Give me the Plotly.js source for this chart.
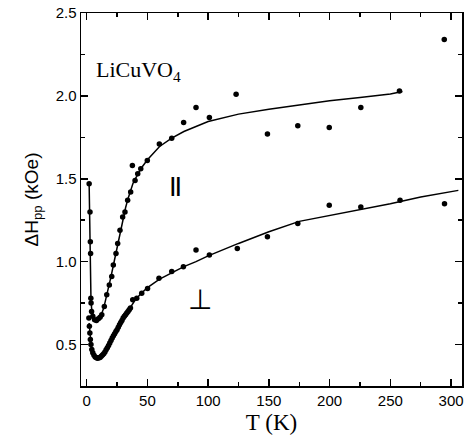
<!DOCTYPE html>
<html>
<head>
<meta charset="utf-8">
<script src="https://cdn.plot.ly/plotly-3.0.1.min.js"></script>
<style>html,body{margin:0;padding:0;background:#fff;}#chart{width:471px;height:442px;}</style>
</head>
<body>
<div id="chart"></div>
<script>
// Parallel (||) measured points
const parT = [2.0, 2.7, 3.0, 3.2, 3.4, 3.6, 4.0, 5.0, 6.5, 8.0, 9.6, 11.0, 12.4, 14.5, 16.5, 18.6, 20.6, 21.9, 24.1, 25.5, 27.4, 29.6, 31.5, 33.7, 36.2, 37.6, 39.8, 42.0, 44.5, 49.9, 59.8, 70.0, 79.8, 90.0, 101.0, 123.0, 148.8, 173.8, 199.7, 225.7, 257.5, 294.4];
const parH = [1.47, 1.30, 1.12, 1.05, 0.78, 0.75, 0.70, 0.67, 0.65, 0.645, 0.655, 0.665, 0.68, 0.73, 0.80, 0.86, 0.91, 0.98, 1.05, 1.11, 1.19, 1.27, 1.30, 1.37, 1.42, 1.58, 1.49, 1.53, 1.56, 1.61, 1.71, 1.745, 1.84, 1.93, 1.87, 2.01, 1.77, 1.82, 1.81, 1.93, 2.03, 2.34];
// Perpendicular measured points
const perT = [1.8, 2.2, 2.6, 3.0, 3.5, 4.2, 5, 6, 7, 8, 9, 10, 11, 12, 13, 14, 15, 16, 17, 18, 19, 20, 21, 22, 23, 24, 25, 26, 27, 28, 29, 30, 31, 32, 33, 34, 35, 36, 37.9, 41.2, 45.3, 50.1, 59.5, 70, 79.6, 90, 101, 124, 148.8, 173.8, 199.7, 225.7, 258, 294.6];
const perH = [0.66, 0.61, 0.57, 0.53, 0.50, 0.47, 0.45, 0.435, 0.425, 0.42, 0.418, 0.42, 0.422, 0.43, 0.437, 0.445, 0.455, 0.468, 0.48, 0.495, 0.51, 0.525, 0.54, 0.553, 0.565, 0.578, 0.59, 0.605, 0.62, 0.633, 0.645, 0.66, 0.67, 0.68, 0.69, 0.70, 0.71, 0.72, 0.77, 0.78, 0.81, 0.838, 0.90, 0.94, 0.97, 1.07, 1.04, 1.08, 1.15, 1.23, 1.34, 1.33, 1.37, 1.35];
// Fit curves
const parFitT = [2, 2.5, 3, 3.5, 4, 5, 6, 7, 8, 10, 12, 14, 16, 18, 20, 22, 24, 26, 28, 30, 32, 34, 36, 38, 40, 45, 50, 60, 70, 80, 90, 100, 125, 150, 175, 200, 225, 250, 260];
const parFitH = [1.47, 1.15, 0.92, 0.78, 0.72, 0.68, 0.66, 0.65, 0.648, 0.655, 0.68, 0.72, 0.78, 0.84, 0.91, 0.98, 1.05, 1.12, 1.20, 1.265, 1.325, 1.38, 1.43, 1.47, 1.50, 1.565, 1.615, 1.695, 1.745, 1.785, 1.815, 1.845, 1.89, 1.92, 1.945, 1.97, 1.99, 2.012, 2.026];
const perFitT = [2, 3, 4, 5, 6, 8, 10, 12, 14, 16, 18, 20, 22, 25, 28, 30, 33, 36, 40, 45, 50, 60, 70, 80, 90, 100, 125, 150, 175, 200, 225, 250, 275, 306];
const perFitH = [0.63, 0.52, 0.47, 0.445, 0.43, 0.42, 0.42, 0.43, 0.445, 0.47, 0.50, 0.53, 0.555, 0.59, 0.635, 0.66, 0.69, 0.725, 0.77, 0.81, 0.843, 0.895, 0.935, 0.97, 1.0, 1.035, 1.11, 1.18, 1.243, 1.277, 1.313, 1.349, 1.39, 1.43];

const mk = {color: '#000', size: 5.5, symbol: 'circle'};
const ln = {color: '#000', width: 1.5};
const data = [
  {x: parFitT, y: parFitH, mode: 'lines', line: ln, hoverinfo: 'skip'},
  {x: perFitT, y: perFitH, mode: 'lines', line: ln, hoverinfo: 'skip'},
  {x: parT, y: parH, mode: 'markers', marker: mk},
  {x: perT, y: perH, mode: 'markers', marker: mk}
];
const axBase = {
  showline: true, linecolor: '#000', linewidth: 1.5, mirror: 'ticks',
  ticks: 'inside', ticklen: 7, tickwidth: 1.5, tickcolor: '#000',
  showgrid: false, zeroline: false,
  tickfont: {family: 'Liberation Sans, Arial, sans-serif', size: 15, color: '#000'}
};
const layout = {
  width: 471, height: 442,
  margin: {l: 81, r: 9, t: 13, b: 56},
  paper_bgcolor: '#fff', plot_bgcolor: '#fff',
  showlegend: false,
  xaxis: Object.assign({}, axBase, {
    range: [-4.7, 309], tickvals: [0, 50, 100, 150, 200, 250, 300],
    minor: {dtick: 25, tick0: 0, ticks: 'inside', ticklen: 4, tickwidth: 1.5, tickcolor: '#000'},
    title: {text: 'T (K)', font: {family: 'Liberation Serif, Times New Roman, serif', size: 23, color: '#000'}, standoff: 6}
  }),
  yaxis: Object.assign({}, axBase, {
    range: [0.25, 2.5], tickvals: [0.5, 1.0, 1.5, 2.0, 2.5], ticktext: ['0.5', '1.0', '1.5', '2.0', '2.5'],
    minor: {dtick: 0.25, tick0: 0, ticks: 'inside', ticklen: 4, tickwidth: 1.5, tickcolor: '#000'},
    title: {text: 'ΔH<sub>pp</sub> (kOe)', font: {family: 'Liberation Sans, Arial, sans-serif', size: 19, color: '#000'}, standoff: 12}
  }),
  annotations: [
    {xref: 'paper', yref: 'paper', x: 0.035, y: 0.845, xanchor: 'left', yanchor: 'middle', showarrow: false,
     text: 'LiCuVO<sub>4</sub>', font: {family: 'Liberation Serif, Times New Roman, serif', size: 22, color: '#000'}},
    {xref: 'x', yref: 'y', x: 73, y: 1.46, showarrow: false, text: '<b>||</b>',
     font: {family: 'Liberation Sans, Arial, sans-serif', size: 20, color: '#000'}},
    {xref: 'x', yref: 'y', x: 93, y: 0.77, showarrow: false, text: '⊥',
     font: {family: 'DejaVu Sans, sans-serif', size: 28, color: '#000'}}
  ]
};
Plotly.newPlot('chart', data, layout, {displayModeBar: false, staticPlot: true});
</script>
</body>
</html>
